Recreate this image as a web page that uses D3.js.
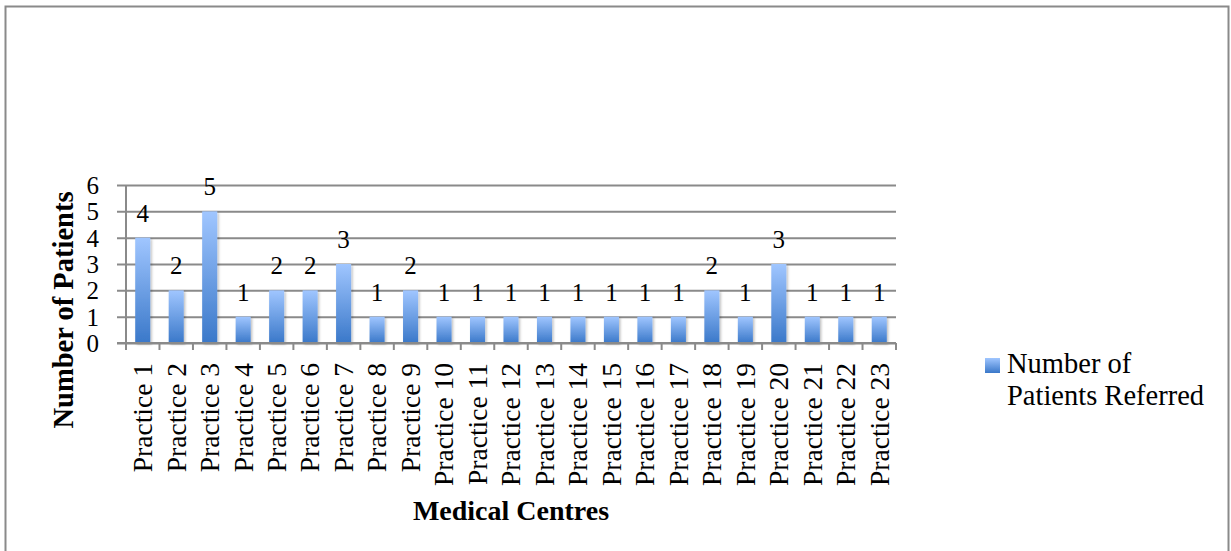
<!DOCTYPE html>
<html>
<head>
<meta charset="utf-8">
<script src="https://cdn.jsdelivr.net/npm/d3@7"></script>
<style>
  html, body { margin: 0; padding: 0; background: #fff; }
  svg { display: block; }
  text { font-family: "Liberation Serif", "Times New Roman", serif; fill: #000; }
</style>
</head>
<body>
<svg id="chart" width="1231" height="551"></svg>
<script>
// Referrals per medical centre
const categories = ["Practice 1","Practice 2","Practice 3","Practice 4","Practice 5","Practice 6",
  "Practice 7","Practice 8","Practice 9","Practice 10","Practice 11","Practice 12","Practice 13",
  "Practice 14","Practice 15","Practice 16","Practice 17","Practice 18","Practice 19","Practice 20",
  "Practice 21","Practice 22","Practice 23"];
const referred = [4,2,5,1,2,2,3,1,2,1,1,1,1,1,1,1,1,2,1,3,1,1,1];
const yTicks = [0,1,2,3,4,5,6];
const seriesName = ["Number of", "Patients Referred"];
const xTitle = "Medical Centres";
const yTitle = "Number of Patients";

const svg = d3.select("#chart");
const plot = { left: 126, right: 896, top: 185, bottom: 343 };

// outer frame
svg.append("rect")
  .attr("x", 5.5).attr("y", 6.5).attr("width", 1223).attr("height", 560)
  .attr("fill", "none").attr("stroke", "#8a8a8a").attr("stroke-width", 2);

const defs = svg.append("defs");
const grad = defs.append("linearGradient").attr("id", "barGrad")
  .attr("x1", 0).attr("y1", 0).attr("x2", 0).attr("y2", 1);
grad.append("stop").attr("offset", "0%").attr("stop-color", "#a0c6ff");
grad.append("stop").attr("offset", "100%").attr("stop-color", "#3a78c9");

const shadow = defs.append("filter").attr("id", "barShadow")
  .attr("x", "-50%").attr("y", "-20%").attr("width", "200%").attr("height", "140%");
shadow.append("feDropShadow").attr("dx", 1.5).attr("dy", 1.5).attr("stdDeviation", 1.2)
  .attr("flood-color", "#000").attr("flood-opacity", 0.25);

const slots = d3.scaleBand().domain(categories).range([plot.left, plot.right]).padding(0);
const x = d3.scaleBand().domain(categories).range([plot.left, plot.right])
  .paddingInner(0.55).paddingOuter(0.275);
const y = d3.scaleLinear().domain([0, 6]).range([plot.bottom, plot.top]);

// horizontal gridlines with y ticks
const yAxis = svg.append("g")
  .attr("transform", `translate(${plot.left},0)`)
  .call(d3.axisLeft(y).tickValues(yTicks).tickFormat(d3.format("d"))
    .tickSize(-(plot.right - plot.left)).tickSizeOuter(0).tickPadding(27));
yAxis.select(".domain").remove();
yAxis.selectAll(".tick line").attr("stroke", "#8a8a8a").attr("stroke-width", 2).attr("x1", -9);
yAxis.selectAll(".tick text")
  .attr("font-size", 25).attr("font-family", "Liberation Serif").attr("fill", "#000").attr("dy", "0.34em");

// bars
svg.append("g").selectAll("rect").data(referred).join("rect")
  .attr("x", (d, i) => x(categories[i]))
  .attr("y", d => y(d))
  .attr("width", x.bandwidth())
  .attr("height", d => y(0) - y(d))
  .attr("fill", "url(#barGrad)")
  .attr("filter", "url(#barShadow)");

// value labels
svg.append("g").selectAll("text").data(referred).join("text")
  .attr("x", (d, i) => x(categories[i]) + x.bandwidth() / 2)
  .attr("y", d => y(d) - 16)
  .attr("text-anchor", "middle")
  .attr("font-size", 25)
  .text(d => d);

// axes lines
svg.append("line")
  .attr("x1", plot.left).attr("x2", plot.left).attr("y1", plot.top).attr("y2", plot.bottom + 7)
  .attr("stroke", "#8a8a8a").attr("stroke-width", 2);
svg.append("line")
  .attr("x1", plot.left - 9).attr("x2", plot.right).attr("y1", plot.bottom).attr("y2", plot.bottom)
  .attr("stroke", "#8a8a8a").attr("stroke-width", 2);

// category boundary ticks
const bounds = categories.map(c => slots(c) + slots.bandwidth()).concat([plot.left]);
svg.append("g").selectAll("line").data(bounds).join("line")
  .attr("x1", d => d).attr("x2", d => d)
  .attr("y1", plot.bottom).attr("y2", plot.bottom + 7)
  .attr("stroke", "#8a8a8a").attr("stroke-width", 2);

// category labels
svg.append("g").selectAll("text").data(categories).join("text")
  .attr("transform", c => `translate(${slots(c) + slots.bandwidth() / 2},${plot.bottom + 20}) rotate(-90)`)
  .attr("text-anchor", "end")
  .attr("dy", "0.34em")
  .attr("font-size", 27.5)
  .text(c => c);

// axis titles
svg.append("text")
  .attr("x", 511).attr("y", 520)
  .attr("text-anchor", "middle")
  .attr("font-size", 28).attr("font-weight", "bold")
  .text(xTitle);
svg.append("text")
  .attr("transform", "translate(73,310) rotate(-90)")
  .attr("text-anchor", "middle")
  .attr("font-size", 28.5).attr("font-weight", "bold")
  .text(yTitle);

// legend
const legend = svg.append("g");
legend.append("rect")
  .attr("x", 985).attr("y", 358).attr("width", 15).attr("height", 15)
  .attr("fill", "url(#barGrad)");
legend.selectAll("text").data(seriesName).join("text")
  .attr("x", 1007).attr("y", (d, i) => 373 + i * 32)
  .attr("font-size", 28.5)
  .text(d => d);
</script>
</body>
</html>
